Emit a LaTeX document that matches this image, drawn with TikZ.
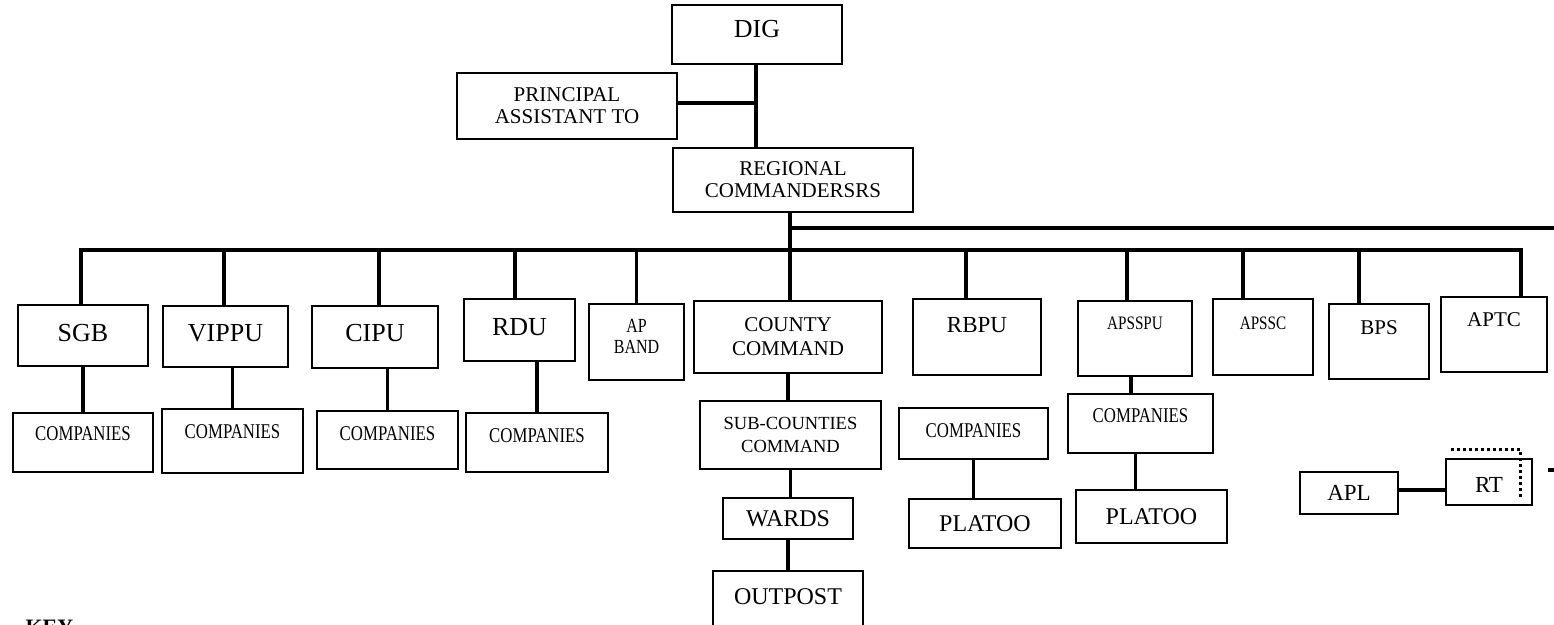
\documentclass[tikz,border=0pt]{standalone}
\usepackage{fontspec}
\setmainfont{Liberation Serif}
\newfontfamily\narrowfont[FakeStretch=0.8]{Liberation Serif}
\newcommand\fsz[2]{\fontsize{#1}{#2}\selectfont}
\tikzset{
  unit/.style={draw, line width=2.4pt, inner sep=0pt, align=center},
  link/.style={line width=3.3pt},
  lift/.style={text depth=#1},
}
\begin{document}
\begin{tikzpicture}[x=1pt,y=-1pt]
  \useasboundingbox (0,0) rectangle (1554,624);
  % top of the chart
  \node[unit, minimum width=170, minimum height=59, font=\fsz{26}{28}, lift=11] (dig) at (757,34.5) {DIG};
  \node[unit, minimum width=220, minimum height=66, font=\fsz{21}{22}] (pat) at (567,106) {PRINCIPAL\\ASSISTANT TO};
  \node[unit, minimum width=240, minimum height=64, font=\fsz{21}{22}] (rc) at (793,180) {REGIONAL\\COMMANDERSRS};
  % second row
  \node[unit, minimum width=130, minimum height=61, font=\fsz{26}{28}, lift=6] (sgb) at (83,335.5) {SGB};
  \node[unit, minimum width=125, minimum height=61, font=\fsz{26}{28}, lift=7] (vip) at (225.5,336.5) {VIPPU};
  \node[unit, minimum width=126, minimum height=62, font=\fsz{26}{28}, lift=8] (cipu) at (375,337) {CIPU};
  \node[unit, minimum width=111, minimum height=62, font=\fsz{26}{28}, lift=6] (rdu) at (519.5,330) {RDU};
  \node[unit, minimum width=95, minimum height=76, font=\narrowfont\fsz{20}{21}, lift=11] (apband) at (636.5,342) {AP\\BAND};
  \node[unit, minimum width=188, minimum height=72, font=\fsz{21}{24}] (county) at (788,337) {COUNTY\\COMMAND};
  \node[unit, minimum width=128, minimum height=76, font=\fsz{23}{25}, lift=24] (rbpu) at (977,337) {RBPU};
  \node[unit, minimum width=114, minimum height=75, font=\narrowfont\fsz{19}{21}, lift=30] (apsspu) at (1135,338.5) {APSSPU};
  \node[unit, minimum width=100, minimum height=76, font=\narrowfont\fsz{19}{21}, lift=28] (apssc) at (1263,337) {APSSC};
  \node[unit, minimum width=100, minimum height=75, font=\fsz{21}{23}, lift=27] (bps) at (1379,341.5) {BPS};
  \node[unit, minimum width=106, minimum height=75, font=\fsz{21}{23}, lift=29] (aptc) at (1494,334.5) {APTC};
  % third row
  \node[unit, minimum width=140, minimum height=59, font=\narrowfont\fsz{21}{23}, lift=17] (co1) at (83,442.5) {COMPANIES};
  \node[unit, minimum width=141, minimum height=64, font=\narrowfont\fsz{21}{23}, lift=19] (co2) at (232.5,441) {COMPANIES};
  \node[unit, minimum width=141, minimum height=58, font=\narrowfont\fsz{21}{23}, lift=12] (co3) at (387.5,440) {COMPANIES};
  \node[unit, minimum width=142, minimum height=59, font=\narrowfont\fsz{21}{23}, lift=13] (co4) at (537,442.5) {COMPANIES};
  \node[unit, minimum width=181, minimum height=68, font=\fsz{18.5}{23}] (sub) at (790.5,435) {SUB-COUNTIES\\COMMAND};
  \node[unit, minimum width=149, minimum height=51, font=\narrowfont\fsz{21}{23}, lift=6] (co5) at (973.5,433.5) {COMPANIES};
  \node[unit, minimum width=145, minimum height=59, font=\narrowfont\fsz{21}{23}, lift=15] (co6) at (1140.5,423.5) {COMPANIES};
  % lower boxes
  \node[unit, minimum width=130, minimum height=41, font=\fsz{24}{26}] (wards) at (788,518.5) {WARDS};
  \node[unit, minimum width=150, minimum height=60, font=\fsz{24}{26}, lift=9] (outpost) at (788,601) {OUTPOST};
  \node[unit, minimum width=152, minimum height=49, font=\fsz{24}{26}] (pl1) at (985,523.5) {PLATOO};
  \node[unit, minimum width=151, minimum height=53, font=\fsz{24}{26}] (pl2) at (1151.5,516.5) {PLATOO};
  \node[unit, minimum width=98, minimum height=42, font=\fsz{23}{25}] (apl) at (1349,493) {APL};
  \node[unit, minimum width=86, minimum height=46, font=\fsz{23}{25}, text height=21] (rt) at (1489,482) {RT};
  \node[font=\bfseries\fsz{22}{24}, anchor=base west] (key) at (22,634) {KEY};
  % connectors
  \coordinate (bus) at (0,250);
  \coordinate (edge) at (1554,228);
  \coordinate (cut) at (1548,470);
  \draw[link] ([xshift=-1]dig.south) -- ([xshift=-1]dig.south |- rc.north);
  \draw[link] ([yshift=3]pat.east) -- ([yshift=3]pat.east -| dig.south);
  \draw[link] ([xshift=-3]rc.south) -- ([xshift=-3]rc.south |- county.north);
  \draw[link] ([xshift=-3]rc.south |- edge) -- (edge);
  \draw[link] ([xshift=-2]sgb.north) |- ([xshift=27]aptc.north |- bus) -- ([xshift=27]aptc.north);
  \foreach \n/\dx in {vip/-1.5, cipu/4, rdu/-4.5, apband/0, rbpu/-11, apsspu/-8, apssc/-20, bps/-20}
    \draw[link] ([xshift=\dx]\n.north) -- ([xshift=\dx]\n.north |- bus);
  \draw[link] (sgb.south) -- (co1.north);
  \draw[link] (co2.north |- vip.south) -- (co2.north);
  \draw[link] (co3.north |- cipu.south) -- (co3.north);
  \draw[link] (co4.north |- rdu.south) -- (co4.north);
  \draw[link] (county.south) -- (county.south |- sub.north);
  \draw[link] (sub.south) -- (sub.south |- wards.north);
  \draw[link] (wards.south) -- (wards.south |- outpost.north);
  \draw[link] (co5.south) -- (co5.south |- pl1.north);
  \draw[link] ([xshift=-4]apsspu.south) -- ([xshift=-4]apsspu.south |- co6.north);
  \draw[link] ([xshift=-5]co6.south) -- ([xshift=-5]co6.south |- pl2.north);
  \draw[link] ([yshift=3]apl.east) -- ([yshift=3]apl.east -| rt.west);
  \draw[line width=3pt, dash pattern=on 3pt off 3pt] ([xshift=6,yshift=8]rt.north west) -- ([xshift=-13,yshift=8]rt.north east) -- ([xshift=-13,yshift=8]rt.south east);
  \draw[link] (cut) -- ++(6,0);
\end{tikzpicture}
\end{document}
